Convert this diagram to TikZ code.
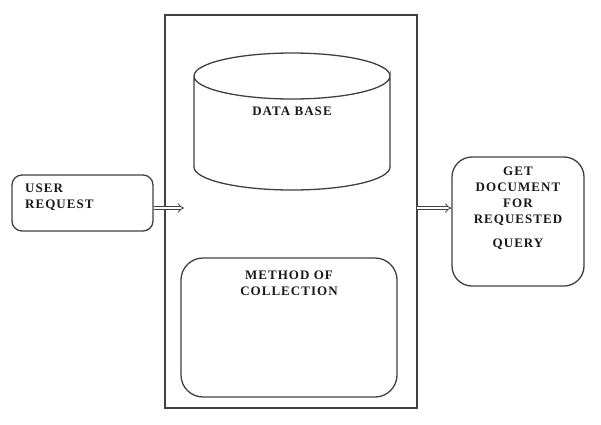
\documentclass[tikz,border=0pt]{standalone}
\usepackage{fontspec}
\setmainfont{Liberation Serif}
\usetikzlibrary{arrows.meta}
\tikzset{
  lbl/.style={font=\fontsize{13}{16}\selectfont\bfseries\addfontfeatures{LetterSpace=8}, text=black!90, inner sep=0pt},
  box/.style={draw=black!75, line width=1.3pt},
  dblarrow/.style={draw=black!75, double=white, double distance=2.4pt, line width=0.8pt, -{Implies}},
}
\begin{document}
\begin{tikzpicture}[x=1pt,y=-1pt]
\useasboundingbox (0,0) rectangle (601,424);
% main frame
\draw[box] (165,15) rectangle (417,408);
\coordinate (mainin) at (184,208);
\coordinate (mainout) at (417,208);
% cylinder
\draw[box, fill=white] (194,76) -- (194,167) arc[start angle=180, end angle=0, x radius=98, y radius=23] -- (390,76) arc[start angle=0, end angle=360, x radius=98, y radius=23];
\node[lbl] (db) at (292,111) {DATA BASE};
% method box
\draw[box, rounded corners=22pt] (181,258) rectangle (397,397);
\node[lbl, align=center, anchor=north] (method) at (289,271) {METHOD OF\\COLLECTION};
% user request
\node[box, rounded corners=10pt, minimum width=141pt, minimum height=56pt] (user) at (82.5,203) {};
\node[lbl, align=left, anchor=north west] (usertxt) at (25,184) {USER\\REQUEST};
% get document
\node[box, rounded corners=20pt, minimum width=132pt, minimum height=129pt] (get) at (518,221.5) {};
\node[lbl, align=center, anchor=north] (gettxt) at (518,167) {GET\\DOCUMENT\\FOR\\REQUESTED\\[8pt]QUERY};
% arrows
\draw[dblarrow] (user.east |- mainin) -- (mainin);
\draw[dblarrow] (mainout) -- (get.west |- mainout);
\end{tikzpicture}
\end{document}
